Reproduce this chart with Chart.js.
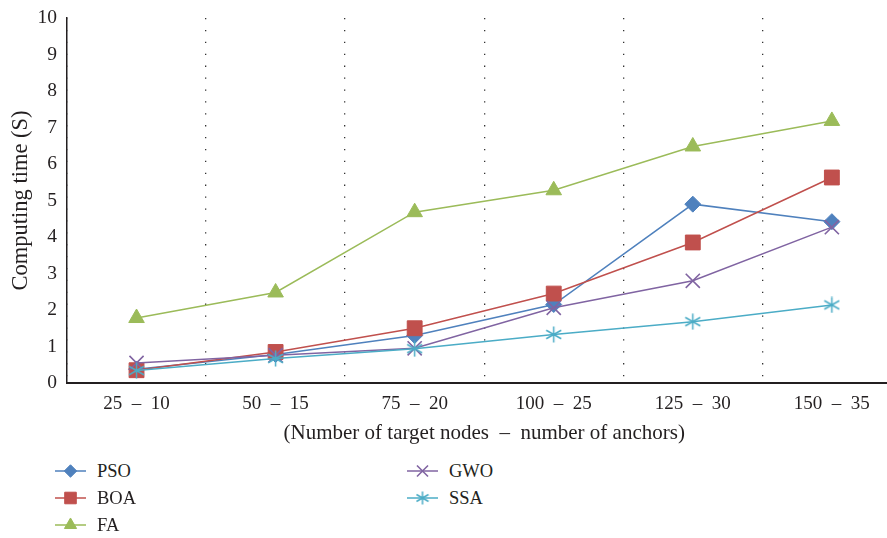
<!DOCTYPE html>
<html>
<head>
<meta charset="utf-8">
<script src="https://cdn.jsdelivr.net/npm/chart.js@4/dist/chart.umd.min.js"></script>
<style>
  html, body { margin: 0; padding: 0; background: #fff; overflow: hidden; width: 887px; height: 538px; }
  #c { position: absolute; left: 0; top: 0; width: 913px; height: 446px; }
  .leg { position: absolute; display: flex; align-items: center; font-family: "Liberation Serif", "DejaVu Serif", serif; font-size: 18.5px; color: #231f20; }
  .leg canvas { margin-right: 11px; }
</style>
</head>
<body>
<canvas id="c" width="913" height="446"></canvas>
<div id="legend"></div>
<script>
// Computing time per scenario (target nodes – anchors)
const categories = ["25\u2002–\u200210", "50\u2002–\u200215", "75\u2002–\u200220", "100\u2002–\u200225", "125\u2002–\u200230", "150\u2002–\u200235"];
const psoTime = [0.38, 0.78, 1.30, 2.15, 4.90, 4.42];
const boaTime = [0.35, 0.85, 1.50, 2.45, 3.85, 5.63];
const faTime  = [1.78, 2.48, 4.68, 5.28, 6.48, 7.18];
const gwoTime = [0.55, 0.76, 0.95, 2.06, 2.80, 4.27];
const ssaTime = [0.34, 0.67, 0.94, 1.33, 1.68, 2.14];
const yTicks  = [0, 1, 2, 3, 4, 5, 6, 7, 8, 9, 10];

const FONT = '"Liberation Serif", "DejaVu Serif", serif';
const INK = '#231f20';

// asterisk marker: one vertical stroke plus an X
function asterisk(color, s) {
  const c = document.createElement('canvas');
  c.width = s; c.height = s;
  const g = c.getContext('2d');
  const m = s / 2;
  g.strokeStyle = color; g.lineWidth = 1.5;
  g.beginPath();
  g.moveTo(m, 0.5); g.lineTo(m, s - 0.5);
  g.moveTo(1, s * 0.25); g.lineTo(s - 1, s * 0.75);
  g.moveTo(1, s * 0.75); g.lineTo(s - 1, s * 0.25);
  g.stroke();
  return c;
}

const series = [
  { label: 'PSO', data: psoTime, color: '#4f81bd', style: 'rectRot', radius: 8, order: 5 },
  { label: 'BOA', data: boaTime, color: '#c0504d', style: 'rect', radius: 10.5, order: 4 },
  { label: 'FA',  data: faTime,  color: '#9bbb59', style: 'triangle', radius: 9, order: 3 },
  { label: 'GWO', data: gwoTime, color: '#8064a2', style: 'crossRot', radius: 10, order: 2 },
  { label: 'SSA', data: ssaTime, color: '#4bacc6', style: asterisk('#4bacc6', 17), legendStyle: asterisk('#4bacc6', 14), radius: 9, order: 1 }
];

const datasets = series.map(s => ({
  label: s.label,
  data: s.data,
  borderColor: s.color,
  backgroundColor: s.color,
  borderWidth: 1.5,
  pointStyle: s.style,
  pointRadius: s.radius,
  pointHoverRadius: s.radius,
  pointBorderWidth: (s.style === 'crossRot') ? 1.6 : 1,
  pointBackgroundColor: s.color,
  pointBorderColor: s.color,
  tension: 0,
  fill: false,
  order: s.order
}));

new Chart(document.getElementById('c'), {
  type: 'line',
  data: { labels: categories, datasets },
  options: {
    responsive: false,
    animation: false,
    layout: { padding: { top: 5, right: 0, bottom: 0, left: 0 } },
    plugins: { legend: { display: false }, tooltip: { enabled: false } },
    scales: {
      x: {
        offset: true,
        afterFit: axis => { axis.height = 63; },
        grid: { display: true, offset: true, drawTicks: false, color: '#333', lineWidth: 1.3 },
        border: { display: true, color: INK, width: 2, dash: [1.3, 10.6] },
        ticks: { color: INK, font: { family: FONT, size: 19 }, padding: 9.5 },
        title: {
          display: true,
          text: '(Number of target nodes\u2002–\u2002number of anchors)',
          color: INK, font: { family: FONT, size: 21 }, padding: { top: 0, bottom: 0 }
        }
      },
      y: {
        min: 0, max: 10,
        afterBuildTicks: axis => { axis.ticks = yTicks.map(v => ({ value: v })); },
        afterFit: axis => { axis.width = 67; },
        grid: { display: false, drawTicks: false },
        border: { display: true, color: INK, width: 1.5 },
        ticks: { color: INK, font: { family: FONT, size: 19.5, lineHeight: 0.82 }, padding: 10 },
        title: {
          display: true, text: 'Computing time (S)',
          color: INK, font: { family: FONT, size: 22.5 }, padding: { top: 8, bottom: 2 }
        }
      }
    }
  }
});

// legend in two columns below the plot
const legendSpots = [
  { x: 55, y: 471 }, { x: 55, y: 498 }, { x: 55, y: 525 },
  { x: 407, y: 471 }, { x: 407, y: 498 }
];
const legendRoot = document.getElementById('legend');
series.forEach((s, i) => {
  const item = document.createElement('div');
  item.className = 'leg';
  item.style.left = legendSpots[i].x + 'px';
  item.style.top = (legendSpots[i].y - 12) + 'px';
  const icon = document.createElement('canvas');
  icon.width = 31; icon.height = 24;
  const g = icon.getContext('2d');
  g.strokeStyle = s.color; g.lineWidth = 1.5;
  g.beginPath(); g.moveTo(0, 12); g.lineTo(31, 12); g.stroke();
  g.fillStyle = s.color; g.strokeStyle = s.color;
  g.lineWidth = (s.style === 'crossRot') ? 1.6 : 1;
  Chart.helpers.drawPoint(g, { pointStyle: s.legendStyle || s.style, radius: s.radius * 0.78, rotation: 0, borderWidth: 1 }, 15.5, 12);
  item.appendChild(icon);
  const t = document.createElement('span');
  t.textContent = s.label;
  item.appendChild(t);
  legendRoot.appendChild(item);
});
</script>
</body>
</html>
